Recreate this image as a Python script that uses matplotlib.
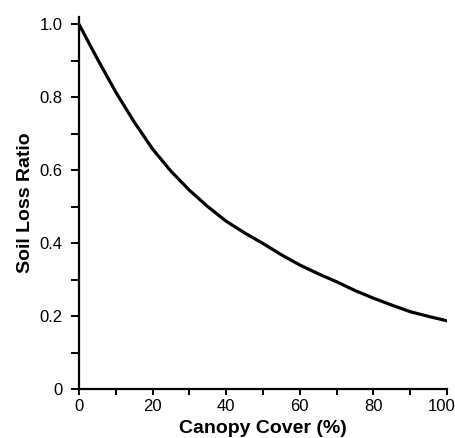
import matplotlib
matplotlib.use("Agg")
import matplotlib.pyplot as plt
import matplotlib.transforms as mtransforms
from matplotlib.ticker import MultipleLocator, FixedLocator

canopy_cover = [0, 5, 10, 15, 20, 25, 30, 35, 40, 45, 50, 55, 60, 65, 70, 75, 80, 85, 90, 95, 100]
soil_loss_ratio = [1.00, 0.905, 0.814, 0.732, 0.658, 0.597, 0.545, 0.500, 0.460, 0.428, 0.399,
                   0.368, 0.340, 0.316, 0.294, 0.270, 0.249, 0.230, 0.212, 0.199, 0.187]
x_ticks = [0, 20, 40, 60, 80, 100]
y_ticks = [0, 0.2, 0.4, 0.6, 0.8, 1.0]
y_tick_labels = ["0", "0.2", "0.4", "0.6", "0.8", "1.0"]

plt.rcParams['font.family'] = ['Liberation Sans', 'DejaVu Sans']

fig = plt.figure(figsize=(4.56, 4.38), dpi=100)
ax = fig.add_axes([79/456, 1-389/438, (447-79)/456, (389-17)/438])

ax.plot(canopy_cover, soil_loss_ratio, color='black', linewidth=2.3,
        solid_capstyle='round', solid_joinstyle='round')

ax.set_xlim(0, 100)
ax.set_ylim(0, 1.02)
ax.spines['top'].set_visible(False)
ax.spines['right'].set_visible(False)
ax.spines['left'].set_linewidth(1.6)
ax.spines['bottom'].set_linewidth(1.6)

ax.set_xticks(x_ticks)
ax.set_xticklabels([str(v) for v in x_ticks])
ax.xaxis.set_minor_locator(MultipleLocator(10))
ax.set_yticks(y_ticks)
ax.set_yticklabels(y_tick_labels)
ax.yaxis.set_minor_locator(FixedLocator([0.1, 0.3, 0.5, 0.7, 0.9]))

ax.tick_params(axis='y', which='both', direction='out', length=6, width=1.4, pad=6, labelsize=12)
ax.tick_params(axis='x', which='both', direction='out', length=4, width=1.4, pad=3, labelsize=12)

# nudge the last x tick label slightly so it stays inside the figure
last = ax.get_xticklabels()[-1]
offset = mtransforms.ScaledTranslation(-5/100, 0, fig.dpi_scale_trans)
last.set_transform(last.get_transform() + offset)

ax.set_ylabel("Soil Loss Ratio", fontsize=14, fontweight='bold', labelpad=4)
ax.set_xlabel("Canopy Cover (%)", fontsize=14, fontweight='bold', labelpad=4.5)

fig.savefig("out.png", dpi=100)
